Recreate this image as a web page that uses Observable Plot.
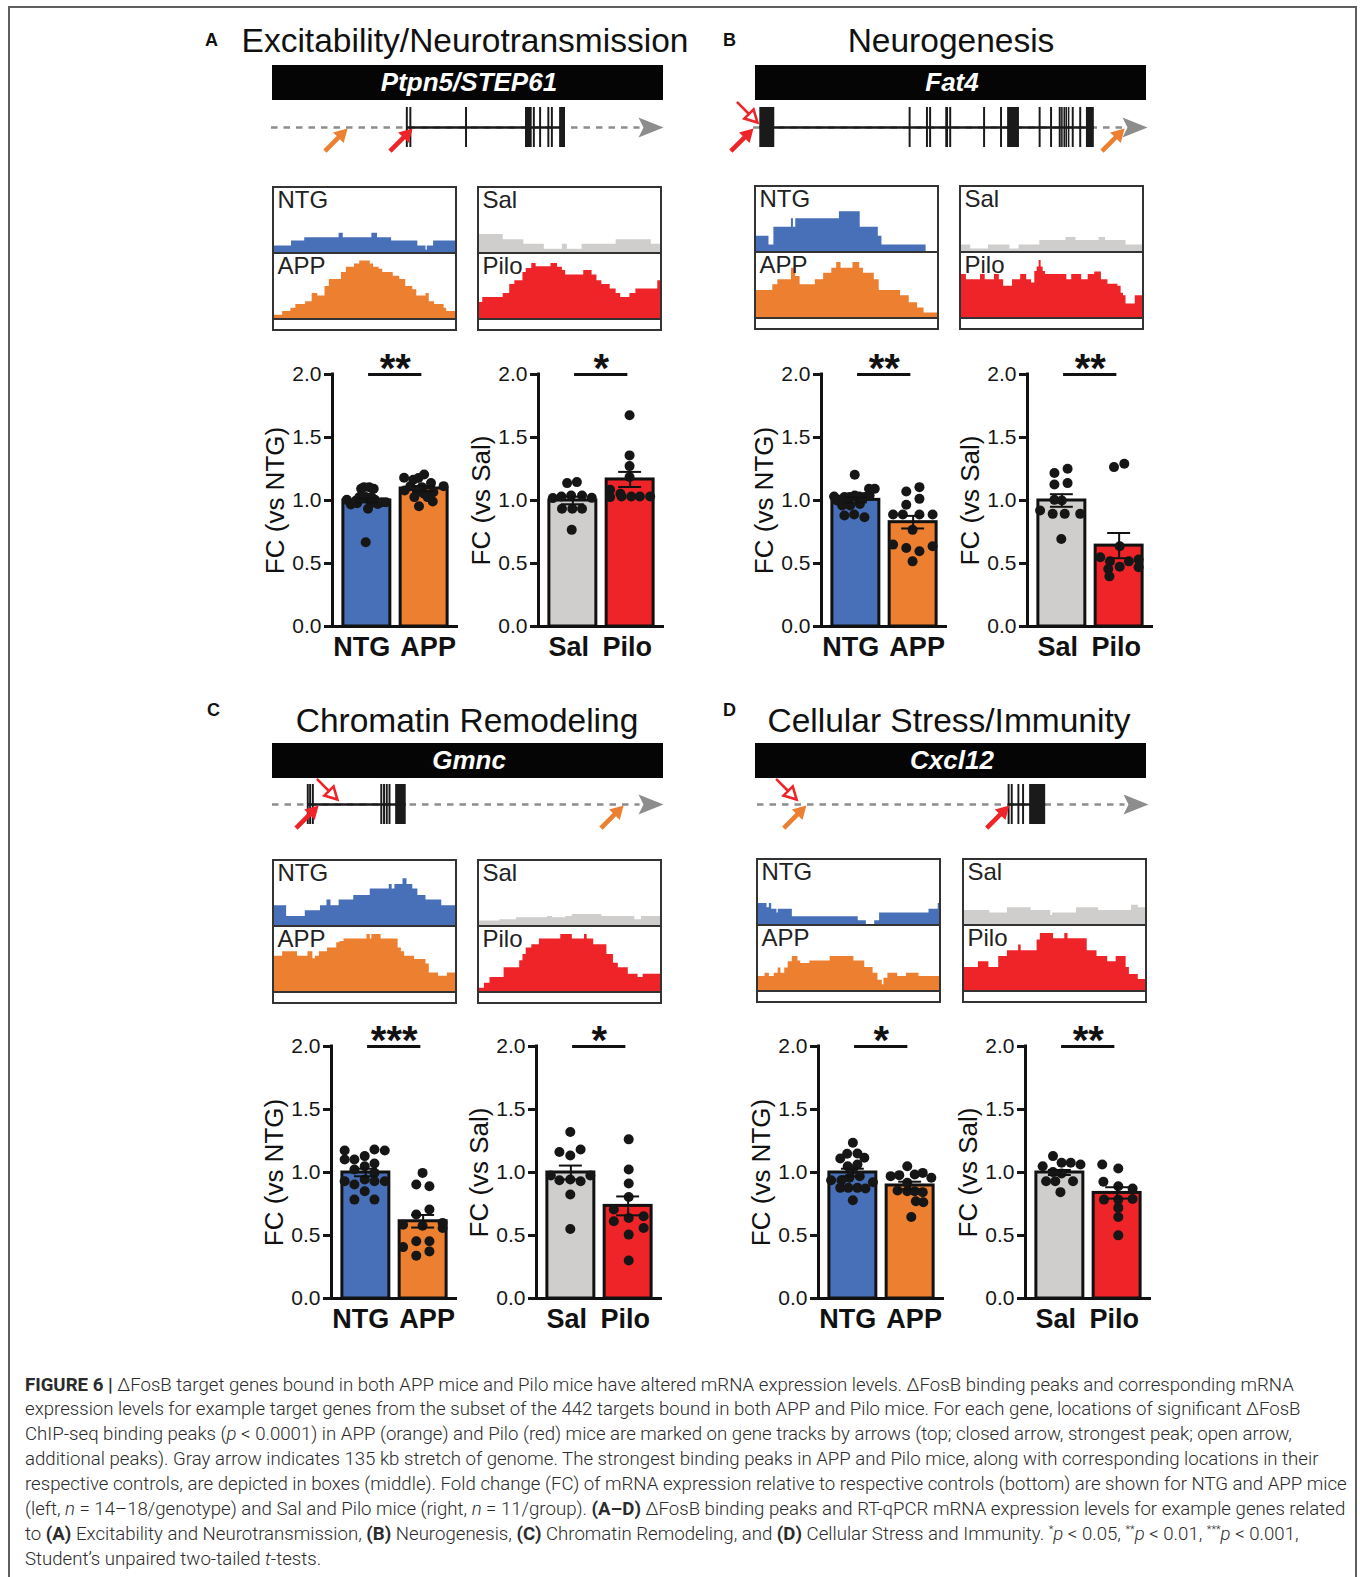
<!DOCTYPE html>
<html><head><meta charset="utf-8">
<script src="https://cdn.jsdelivr.net/npm/d3@7"></script>
<script src="https://cdn.jsdelivr.net/npm/@observablehq/plot@0.6"></script>
<style>
body{margin:0;background:#fff;}
#fig{position:relative;width:1360px;height:1577px;overflow:hidden;background:#fff;font-family:"Liberation Sans",Arial,Helvetica,sans-serif;}
#fig svg{position:absolute;overflow:visible;}
.cap{position:absolute;left:25px;white-space:nowrap;font-family:Roboto,"Open Sans",sans-serif;font-weight:300;font-size:19px;color:#2b2b2b;transform-origin:0 50%;}
.cap b{font-weight:700;}
</style></head><body><div id="fig"></div>
<script>
// ---------------- DATA ----------------
const panelLetters = ["A","B","C","D"];
const panelTitles = ["Excitability/Neurotransmission","Neurogenesis","Chromatin Remodeling","Cellular Stress/Immunity"];
const geneNames = ["Ptpn5/STEP61","Fat4","Gmnc","Cxcl12"];
const leftGroups = ["NTG","APP"];
const rightGroups = ["Sal","Pilo"];
const yTicks = [0, 0.5, 1.0, 1.5, 2.0];
const leftLabel = "FC (vs NTG)";
const rightLabel = "FC (vs Sal)";

// gene models along the 135 kb window (percent of window): exons [start,end], gene body [start,end]
const exonsA = [[34.4,34.9],[35.3,35.8],[49.5,50.0],[64.8,66.5],[66.8,67.3],[68.4,68.9],[70.5,71.0],[71.4,71.9],[73.5,75.0]];
const geneA = [34.6,74.8];
const exonsB = [[1.6,5.4],[39.5,40.0],[43.9,44.4],[44.7,45.2],[48.8,49.5],[49.8,50.3],[58.4,58.9],[62.7,63.2],[64.5,67.5],[72.5,73.0],[75.4,75.9],[77.6,78.1],[78.2,78.6],[78.8,79.2],[79.3,79.7],[79.9,80.3],[80.9,81.4],[82.8,83.3],[84.5,86.5]];
const geneB = [1.6,86.5];
const exonsC = [[8.9,9.4],[9.5,10.0],[10.2,10.7],[27.7,28.2],[28.4,28.9],[29.1,29.6],[29.8,30.3],[31.5,34.2]];
const geneC = [9.1,34.2];
const exonsD = [[64.1,64.6],[64.9,65.4],[66.6,67.1],[67.8,68.3],[69.6,73.7]];
const geneD = [64.3,73.7];

// ChIP-seq peaks: [position %, group, kind]
const peaksA = [[19.4,"APP","closed"],[36.0,"Pilo","closed"]];
const peaksB = [[0.0,"Pilo","closed"],[1.0,"Pilo","open"],[94.2,"APP","closed"]];
const peaksC = [[11.8,"Pilo","closed"],[16.6,"Pilo","open"],[89.8,"APP","closed"]];
const peaksD = [[10.0,"Pilo","open"],[12.5,"APP","closed"],[64.4,"Pilo","closed"]];

// coverage tracks: [start %, height % of track]
const covA_NTG = [[0,10],[9.4,18],[16.7,23],[35.7,30],[38.0,23],[53.8,30],[56.9,23],[64.7,18],[79.2,10],[83.7,3.5],[84.4,10],[87.9,18]];
const covA_APP = [[0,5],[4.5,11],[9.1,16],[11.8,22],[17.2,26],[20.8,39],[23.9,35],[27.9,50],[30.3,61],[37.0,72],[39.7,80],[44.2,85],[47.1,90],[52.9,85],[54.7,80],[57.8,77],[59.8,72],[65.6,66],[69.2,61],[72.5,50],[76.4,45],[78.6,35],[83.7,39],[85.5,26],[88.4,22],[93.7,16],[95.1,11]];
const covA_Sal = [[0,28],[13.1,20],[24.5,13],[35.8,5],[45.8,13],[48.5,5],[56.7,13],[75.5,20],[94.9,13]];
const covA_Pilo = [[0,25],[1.8,33],[13.1,39],[16.7,53],[19.5,59],[24.0,72],[25.8,78],[28.9,86],[31.3,81],[39.5,86],[43.1,80],[45.8,75],[47.6,68],[57.6,75],[62.2,68],[64.9,59],[67.6,53],[72.2,46],[75.5,39],[78.0,33],[83.1,39],[86.4,46],[98.5,59]];
const covB_NTG = [[0,24],[6.9,10],[9.6,38],[19.3,51],[20.4,38],[21.7,51],[45.8,62],[57.3,38],[67.3,24],[69.3,10],[93.7,0]];
const covB_APP = [[0,42],[9.0,51],[11.8,59],[19.3,77],[21.7,64],[24.1,51],[32.5,59],[37.1,69],[41.6,77],[44.3,86],[46.7,77],[53.3,86],[57.0,77],[59.1,69],[65.1,59],[67.8,42],[79.6,34],[84.4,23],[89.0,15],[92.6,7]];
const covB_Sal = [[0,10],[5.1,4],[14.9,10],[26.7,4],[31.8,10],[43.3,17],[57.8,22],[63.3,17],[76.0,22],[79.6,17],[90.9,10]];
const covB_Pilo = [[0,67],[2.7,59],[10.5,67],[13.1,59],[18.2,67],[20.9,59],[23.3,49],[28.2,59],[32.7,67],[36.0,59],[38.7,54],[40.5,72],[41.8,79],[42.9,89],[44.0,79],[45.1,72],[46.4,67],[58.2,59],[60.9,67],[66.4,59],[70.0,67],[73.6,71],[77.3,59],[80.9,52],[86.4,49],[88.2,38],[89.5,34],[90.9,21],[96.0,34]];
const covC_NTG = [[0,31],[6.7,14],[17.0,23],[25.4,31],[29.0,40],[31.2,31],[35.7,40],[43.8,47],[52.9,57],[63.4,64],[65.0,57],[66.5,64],[71.0,73],[73.2,64],[76.4,57],[79.2,47],[83.7,40],[92.4,31]];
const covC_APP = [[0,55],[4.5,62],[12.7,55],[18.5,62],[21.2,51],[22.6,55],[24.8,62],[29.3,68],[34.4,76],[36.2,78],[38.4,82],[51.1,89],[52.9,82],[53.8,89],[58.9,82],[68.3,68],[70.1,62],[71.9,55],[77.4,50],[83.7,43],[85.5,29],[90.6,24],[95.5,29]];
const covC_Sal = [[0,7],[11.3,9],[20.4,12],[37.6,14],[40.4,12],[47.6,14],[51.3,17],[67.6,14],[85.8,9],[89.5,14]];
const covC_Pilo = [[0,5],[2.7,13],[5.8,22],[13.6,37],[22.2,48],[24.0,58],[25.8,68],[28.9,73],[33.1,82],[44.9,89],[51.3,82],[58.0,89],[59.5,82],[63.1,73],[70.4,58],[74.0,44],[76.7,37],[82.2,27],[87.6,22],[90.4,27]];
const covD_NTG = [[0,33],[4.7,26],[6.0,33],[7.3,24],[10.2,18],[10.9,24],[18.7,12],[55.1,6],[59.6,0],[64.2,6],[66.9,18],[94.2,24],[99.3,33]];
const covD_APP = [[0,22],[3.6,27],[6.0,22],[8.7,27],[10.9,35],[12.4,27],[14.5,35],[16.4,45],[18.7,53],[21.8,46],[23.3,42],[28.4,46],[39.6,53],[52.7,46],[58.7,36],[63.3,27],[66.0,16],[68.4,9],[69.3,19],[71.5,27],[76.9,22],[81.8,27],[88.7,22]];
const covD_Sal = [[0,22],[14.0,18],[23.7,26],[36.8,22],[47.7,14],[48.6,18],[61.9,26],[74.1,22],[92.3,30],[96.0,26]];
const covD_Pilo = [[0,36],[7.7,45],[13.5,36],[18.9,53],[23.7,62],[29.9,71],[31.3,62],[40.1,79],[41.9,89],[49.2,81],[55.4,89],[57.2,81],[67.8,62],[73.2,53],[79.1,45],[83.8,53],[89.3,36],[91.1,25],[96.0,17]];

// RT-qPCR fold change: bar means and SEM [NTG, APP, Sal, Pilo]
const meanA = [1.00, 1.095, 1.00, 1.167], semA = [0.015, 0.02, 0.03, 0.06];
const meanB = [1.005, 0.828, 1.00, 0.642], semB = [0.02, 0.05, 0.05, 0.10];
const meanC = [1.00, 0.613, 1.00, 0.735], semC = [0.03, 0.05, 0.055, 0.075];
const meanD = [1.00, 0.897, 1.00, 0.838], semD = [0.03, 0.03, 0.02, 0.045];
const starsA = ["**","*"], starsB = ["**","**"], starsC = ["***","*"], starsD = ["*","**"];

// individual animals: [horizontal offset within bar, FC]
const ptsA_NTG = [[-0.35,1.005],[-0.28,0.968],[-0.17,0.979],[-0.13,1.027],[-0.10,1.093],[-0.05,1.106],[-0.02,1.027],[0.04,1.106],[0.02,0.934],[0.07,0.979],[0.12,1.093],[0.14,1.005],[0.19,0.973],[0.26,0.987],[0.33,0.987],[-0.02,0.668],[-0.19,1.000],[0.08,1.027]];
const ptsA_APP = [[-0.35,1.180],[-0.34,1.080],[-0.24,1.114],[-0.19,1.164],[-0.10,1.178],[0.00,1.207],[-0.09,0.955],[-0.04,1.106],[0.00,1.053],[0.12,1.138],[0.15,0.992],[0.16,1.066],[0.34,1.114],[-0.12,1.066],[0.06,1.027],[-0.17,1.027]];
const ptsA_Sal = [[-0.10,1.138],[0.07,1.146],[-0.35,1.019],[-0.20,1.032],[-0.03,1.040],[0.16,1.040],[0.33,1.021],[-0.19,0.934],[-0.01,0.934],[0.16,0.934],[-0.02,0.767]];
const ptsA_Pilo = [[-0.01,1.676],[-0.01,1.358],[-0.01,1.273],[-0.01,1.186],[-0.35,1.085],[-0.35,1.027],[-0.17,1.053],[-0.15,1.032],[0.02,1.032],[0.17,1.032],[0.35,1.032]];
const ptsB_NTG = [[-0.02,1.204],[-0.38,1.032],[-0.28,1.005],[-0.20,1.027],[-0.11,1.027],[-0.02,1.040],[0.06,1.032],[0.15,1.027],[0.24,1.040],[0.33,1.093],[0.23,1.093],[-0.33,1.000],[-0.20,0.881],[-0.03,0.889],[0.15,0.867],[-0.10,0.960],[0.07,0.973],[-0.24,0.960]];
const ptsB_APP = [[-0.12,1.072],[0.11,1.106],[0.11,1.013],[-0.12,0.966],[-0.35,0.889],[-0.18,0.889],[0.11,0.889],[0.34,0.889],[-0.01,0.767],[-0.35,0.650],[-0.12,0.623],[0.11,0.597],[0.34,0.637],[-0.01,0.517]];
const ptsB_Sal = [[-0.13,1.218],[0.10,1.252],[-0.13,1.127],[0.10,1.138],[0.00,1.000],[-0.13,1.005],[-0.38,0.920],[-0.16,0.894],[0.05,0.894],[0.32,0.894],[-0.01,0.695]];
const ptsB_Pilo = [[-0.09,1.265],[0.09,1.292],[0.01,0.637],[-0.33,0.549],[-0.16,0.517],[0.01,0.475],[0.17,0.517],[0.34,0.531],[0.34,0.470],[-0.19,0.456],[-0.17,0.398]];
const ptsC_NTG = [[-0.37,1.175],[-0.20,1.103],[-0.02,1.130],[0.15,1.183],[0.33,1.175],[-0.37,1.103],[0.15,1.072],[-0.20,1.024],[-0.02,1.050],[-0.37,0.931],[-0.20,0.905],[-0.02,0.944],[0.15,0.931],[0.33,0.931],[-0.20,0.785],[-0.02,0.851],[0.15,0.785],[0.15,0.997]];
const ptsC_APP = [[-0.01,0.997],[-0.12,0.905],[0.11,0.891],[0.11,0.706],[-0.12,0.666],[-0.35,0.586],[-0.01,0.578],[0.34,0.560],[-0.35,0.408],[-0.12,0.340],[0.11,0.374],[0.11,0.454],[-0.12,0.454],[0.34,0.600]];
const ptsC_Sal = [[-0.01,1.321],[-0.20,1.162],[-0.01,1.135],[0.17,1.183],[-0.35,0.976],[-0.20,0.939],[-0.01,0.944],[0.17,0.931],[0.34,0.976],[-0.01,0.825],[-0.01,0.552]];
const ptsC_Pilo = [[0.01,1.263],[0.01,1.024],[0.01,0.912],[0.01,0.806],[-0.25,0.706],[0.01,0.639],[0.27,0.653],[0.27,0.560],[-0.25,0.613],[0.01,0.507],[0.01,0.302]];
const ptsD_NTG = [[0.00,1.236],[-0.10,1.149],[0.08,1.151],[-0.22,1.111],[0.20,1.117],[0.08,1.064],[-0.09,1.050],[0.00,1.024],[-0.38,0.939],[-0.20,0.939],[-0.06,0.958],[0.12,0.971],[0.35,0.923],[-0.22,0.878],[-0.08,0.878],[0.08,0.878],[0.22,0.873],[0.00,0.780]];
const ptsD_APP = [[-0.05,1.050],[-0.34,0.971],[-0.19,0.979],[0.08,0.984],[0.22,0.997],[0.37,0.958],[-0.05,0.918],[-0.22,0.857],[-0.05,0.851],[0.08,0.851],[0.22,0.844],[0.10,0.772],[0.23,0.764],[0.02,0.647]];
const ptsD_Sal = [[-0.12,1.130],[-0.30,1.050],[0.03,1.077],[0.19,1.077],[0.36,1.064],[-0.12,1.003],[0.03,0.992],[-0.24,0.931],[-0.08,0.931],[0.23,0.931],[0.01,0.844]];
const ptsD_Pilo = [[-0.26,1.064],[0.02,1.032],[-0.24,0.926],[0.02,0.891],[0.27,0.873],[-0.23,0.785],[0.02,0.785],[0.27,0.790],[0.02,0.719],[0.02,0.647],[0.02,0.501]];

// ---------------- STYLE / LAYOUT ----------------
const FONT = '"Liberation Sans", Arial, Helvetica, sans-serif';
const groupColor = {NTG:"#4870b8", APP:"#ed7f31", Sal:"#cfcecc", Pilo:"#ee2428"};
const layout = [
  {letter:[205,46], title:[465,52], bar:[272,65], track:[271,663,127], boxes:[[272,186],[477,186]], axes:[332,538], top:374},
  {letter:[723,46], title:[951,52], bar:[755,65], track:[753,1147,127], boxes:[[754,185],[959,185]], axes:[821,1027], top:374},
  {letter:[207,716], title:[467,732], bar:[272,743], track:[272,663,804], boxes:[[272,859],[477,859]], axes:[331,536], top:1046},
  {letter:[723,716], title:[949,732], bar:[755,743], track:[757,1148,804], boxes:[[756,858],[962,858]], axes:[818,1025], top:1046}
];
const panelData = [
  {exons:exonsA, gene:geneA, peaks:peaksA, cov:[covA_NTG,covA_APP,covA_Sal,covA_Pilo], mean:meanA, sem:semA, stars:starsA, pts:[ptsA_NTG,ptsA_APP,ptsA_Sal,ptsA_Pilo]},
  {exons:exonsB, gene:geneB, peaks:peaksB, cov:[covB_NTG,covB_APP,covB_Sal,covB_Pilo], mean:meanB, sem:semB, stars:starsB, pts:[ptsB_NTG,ptsB_APP,ptsB_Sal,ptsB_Pilo]},
  {exons:exonsC, gene:geneC, peaks:peaksC, cov:[covC_NTG,covC_APP,covC_Sal,covC_Pilo], mean:meanC, sem:semC, stars:starsC, pts:[ptsC_NTG,ptsC_APP,ptsC_Sal,ptsC_Pilo]},
  {exons:exonsD, gene:geneD, peaks:peaksD, cov:[covD_NTG,covD_APP,covD_Sal,covD_Pilo], mean:meanD, sem:semD, stars:starsD, pts:[ptsD_NTG,ptsD_APP,ptsD_Sal,ptsD_Pilo]}
];

const fig = document.getElementById("fig");
function put(el, x, y) { el.style.position = "absolute"; el.style.left = x + "px"; el.style.top = y + "px"; fig.appendChild(el); return el; }
function textAt(str, x, baseline, size, o = {}) {
  const d = document.createElement("div");
  d.textContent = str;
  Object.assign(d.style, {position:"absolute", top:(baseline - 0.8465*size)+"px", left:x+"px", fontSize:size+"px", lineHeight:size+"px",
    fontWeight:o.weight||"normal", fontStyle:o.style||"normal", color:o.color||"#111", whiteSpace:"nowrap", fontFamily:FONT});
  if (o.anchor === "middle") d.style.transform = "translateX(-50%)";
  fig.appendChild(d);
  return d;
}

// outer frame
const frame = document.createElement("div");
Object.assign(frame.style, {position:"absolute", left:"8px", top:"6px", width:"1349px", height:"1620px", border:"2px solid #5f5f5f", boxSizing:"border-box"});
fig.appendChild(frame);

// shapes
const filledArrow = {draw(ctx, l) { const hw = 7.5, hl = 13, sw = 2.3;
  ctx.moveTo(-sw, 0); ctx.lineTo(-sw, -(l - hl)); ctx.lineTo(-hw, -(l - hl)); ctx.lineTo(0, -l);
  ctx.lineTo(hw, -(l - hl)); ctx.lineTo(sw, -(l - hl)); ctx.lineTo(sw, 0); ctx.closePath(); }};
const openArrow = {draw(ctx, l) { const hw = 6.5, hl = 12;
  ctx.moveTo(0, 0); ctx.lineTo(0, -(l - hl));
  ctx.moveTo(-hw, -(l - hl)); ctx.lineTo(0, -l); ctx.lineTo(hw, -(l - hl)); ctx.closePath(); }};
const trackHead = {draw(ctx) { ctx.moveTo(0, 0); ctx.lineTo(-25, -10); ctx.lineTo(-20, 0); ctx.lineTo(-25, 10); ctx.closePath(); }};

function geneTrack(L, P) {
  const [x0, x1, ly] = L.track;
  const svg = Plot.plot({
    width: (x1 - x0) + 60, height: 70, marginLeft: 30, marginRight: 30, marginTop: 5, marginBottom: 5,
    x: {domain: [0, 100], axis: null}, y: {domain: [-1, 1], axis: null}, color: {type: "identity"},
    style: {fontFamily: FONT, overflow: "visible", background: "transparent"},
    marks: [
      Plot.ruleY([0], {x1: 0, x2: 94, stroke: "#8d8d8d", strokeWidth: 2.5, strokeDasharray: "6.5,6"}),
      Plot.ruleY([0], {x1: P.gene[0], x2: P.gene[1], stroke: "#1a1a1a", strokeWidth: 2.5}),
      Plot.rect(P.exons, {x1: d => d[0], x2: d => d[1], y1: -0.667, y2: 0.667, fill: "#1a1a1a"}),
      Plot.dot([100], {x: d => d, y: 0, symbol: trackHead, fill: "#8d8d8d", stroke: "none"}),
      Plot.vector(P.peaks.filter(d => d[2] === "closed"), {x: d => d[0], y: 0, rotate: 45, length: 32, anchor: "end", shape: filledArrow,
        fill: d => groupColor[d[1]], stroke: "none", dy: 1}),
      Plot.vector(P.peaks.filter(d => d[2] === "open"), {x: d => d[0], y: 0, rotate: 135, length: 28, anchor: "end", shape: openArrow,
        fill: "white", stroke: d => groupColor[d[1]], strokeWidth: 2.6, strokeLinejoin: "miter", dy: -5})
    ]
  });
  put(svg, x0 - 30, ly - 35);
}

function covTrack(steps, color, label) {
  const rows = steps.map(([x, h]) => ({x, h})).concat([{x: 100, h: steps[steps.length - 1][1]}]);
  const svg = Plot.plot({
    width: 181, height: 64, margin: 0,
    x: {domain: [0, 100], axis: null}, y: {domain: [0, 100], axis: null},
    style: {fontFamily: FONT, overflow: "visible", background: "transparent", position: "static"},
    marks: [
      Plot.areaY(rows, {x: "x", y: "h", curve: "step-after", fill: color}),
      Plot.text([label], {text: d => d, frameAnchor: "top-left", textAnchor: "start", lineAnchor: "top", dx: 3, dy: 2, fontSize: 24, fill: "#222"})
    ]
  });
  svg.style.position = "static";
  svg.style.display = "block";
  return svg;
}

function covBox(x, y, covTop, covBot, gTop, gBot) {
  const box = document.createElement("div");
  Object.assign(box.style, {width: "185px", height: "145px", border: "2px solid #333", boxSizing: "border-box", background: "#fff"});
  const t = document.createElement("div"); Object.assign(t.style, {height: "64px", borderBottom: "2px solid #333"});
  t.appendChild(covTrack(covTop, groupColor[gTop], gTop));
  const b = document.createElement("div"); Object.assign(b.style, {height: "64px", borderBottom: "2px solid #333"});
  b.appendChild(covTrack(covBot, groupColor[gBot], gBot));
  box.appendChild(t); box.appendChild(b);
  put(box, x, y);
}

function barChart(axX, topY, groups, means, sems, pts, stars, yLabel, labelDx) {
  const rows = groups.map((g, i) => ({i, g, m: means[i], s: sems[i], c: groupColor[g]}));
  const dots = pts.flatMap((arr, i) => arr.map(([o, v]) => ({x: i + o, v})));
  const caps = rows.flatMap(d => [{i: d.i, y: d.m + d.s}, {i: d.i, y: d.m - d.s}]);
  const svg = Plot.plot({
    width: 232, height: 340, marginLeft: 92, marginRight: 14, marginTop: 40, marginBottom: 48,
    x: {domain: [-0.6, 1.6], axis: null}, y: {domain: [0, 2], axis: null}, color: {type: "identity"},
    style: {fontFamily: FONT, color: "#161616", overflow: "visible", background: "transparent"},
    marks: [
      Plot.rect(rows, {x1: d => d.i - 0.41, x2: d => d.i + 0.41, y1: 0, y2: "m", fill: "c", stroke: "#111", strokeWidth: 3}),
      Plot.dot(dots, {x: "x", y: "v", r: 5, fill: "#161616", stroke: "none"}),
      Plot.ruleX(rows, {x: "i", y1: d => d.m - d.s, y2: d => d.m + d.s, stroke: "#111", strokeWidth: 2}),
      Plot.ruleY(caps, {y: "y", x1: d => d.i - 0.2, x2: d => d.i + 0.2, stroke: "#111", strokeWidth: 2}),
      Plot.ruleY([0], {stroke: "#111", strokeWidth: 3}),
      Plot.ruleX([-0.6], {y1: 0, y2: 2, stroke: "#111", strokeWidth: 3, strokeLinecap: "square"}),
      Plot.axisY({ticks: yTicks, tickFormat: d3.format(".1f"), tickSize: 8, tickPadding: 3, fontSize: 21, strokeWidth: 3, label: null}),
      Plot.text(rows.slice(0, 1), {x: "i", y: 0, text: "g", dy: 21, dx: labelDx[0], fontWeight: "bold", fontSize: 27, fill: "#111"}),
      Plot.text(rows.slice(1), {x: "i", y: 0, text: "g", dy: 21, dx: labelDx[1], fontWeight: "bold", fontSize: 27, fill: "#111"}),
      Plot.text([yLabel], {text: d => d, frameAnchor: "left", textAnchor: "middle", rotate: -90, dx: -57, fontSize: 26, fill: "#111"}),
      Plot.ruleY([2], {x1: 0.03, x2: 0.96, stroke: "#111", strokeWidth: 3}),
      Plot.text([stars], {text: d => d, x: 0.495, y: 2, dy: -5, fontWeight: "bold", fontSize: 40, fill: "#111"})
    ]
  });
  put(svg, axX - 92, topY - 40);
}

layout.forEach((L, k) => {
  const P = panelData[k];
  textAt(panelLetters[k], L.letter[0], L.letter[1], 18, {weight: "bold"});
  textAt(panelTitles[k], L.title[0], L.title[1], 33.5, {anchor: "middle"});
  const bar = document.createElement("div");
  Object.assign(bar.style, {width: "391px", height: "35px", background: "#050505"});
  put(bar, L.bar[0], L.bar[1]);
  textAt(geneNames[k], L.bar[0] + 197, L.bar[1] + 26, 26, {anchor: "middle", weight: "bold", style: "italic", color: "#fff"});
  geneTrack(L, P);
  covBox(L.boxes[0][0], L.boxes[0][1], P.cov[0], P.cov[1], "NTG", "APP");
  covBox(L.boxes[1][0], L.boxes[1][1], P.cov[2], P.cov[3], "Sal", "Pilo");
  barChart(L.axes[0], L.top, leftGroups, P.mean.slice(0, 2), P.sem.slice(0, 2), P.pts.slice(0, 2), P.stars[0], leftLabel, [-5, 4]);
  barChart(L.axes[1], L.top, rightGroups, P.mean.slice(2), P.sem.slice(2), P.pts.slice(2), P.stars[1], rightLabel, [-4, -3]);
});

// caption
const captionLines = [
  '<b>FIGURE 6 |</b> ΔFosB target genes bound in both APP mice and Pilo mice have altered mRNA expression levels. ΔFosB binding peaks and corresponding mRNA',
  'expression levels for example target genes from the subset of the 442 targets bound in both APP and Pilo mice. For each gene, locations of significant ΔFosB',
  'ChIP-seq binding peaks (<i>p</i> &lt; 0.0001) in APP (orange) and Pilo (red) mice are marked on gene tracks by arrows (top; closed arrow, strongest peak; open arrow,',
  'additional peaks). Gray arrow indicates 135 kb stretch of genome. The strongest binding peaks in APP and Pilo mice, along with corresponding locations in their',
  'respective controls, are depicted in boxes (middle). Fold change (FC) of mRNA expression relative to respective controls (bottom) are shown for NTG and APP mice',
  '(left, <i>n</i> = 14–18/genotype) and Sal and Pilo mice (right, <i>n</i> = 11/group). <b>(A–D)</b> ΔFosB binding peaks and RT-qPCR mRNA expression levels for example genes related',
  'to <b>(A)</b> Excitability and Neurotransmission, <b>(B)</b> Neurogenesis, <b>(C)</b> Chromatin Remodeling, and <b>(D)</b> Cellular Stress and Immunity. <sup style="font-size:11px;line-height:0">*</sup><i>p</i> &lt; 0.05, <sup style="font-size:11px;line-height:0">**</sup><i>p</i> &lt; 0.01, <sup style="font-size:11px;line-height:0">***</sup><i>p</i> &lt; 0.001,',
  'Student’s unpaired two-tailed <i>t</i>-tests.'
];
const capTargets = [1278, 1266, 1272, 1282, 1305, 1314, 1302];
const capEls = captionLines.map((h, i) => {
  const d = document.createElement("div");
  d.className = "cap"; d.innerHTML = h;
  d.style.top = (1385 - 12.4 + i * 24.86) + "px";
  d.style.lineHeight = "24.86px";
  d.style.height = "24.86px";
  fig.appendChild(d);
  return d;
});
const ratios = capTargets.map((t, i) => t / capEls[i].getBoundingClientRect().width);
const sc = d3.mean(ratios);
capEls.forEach(d => d.style.transform = `scaleX(${sc})`);
</script></body></html>
